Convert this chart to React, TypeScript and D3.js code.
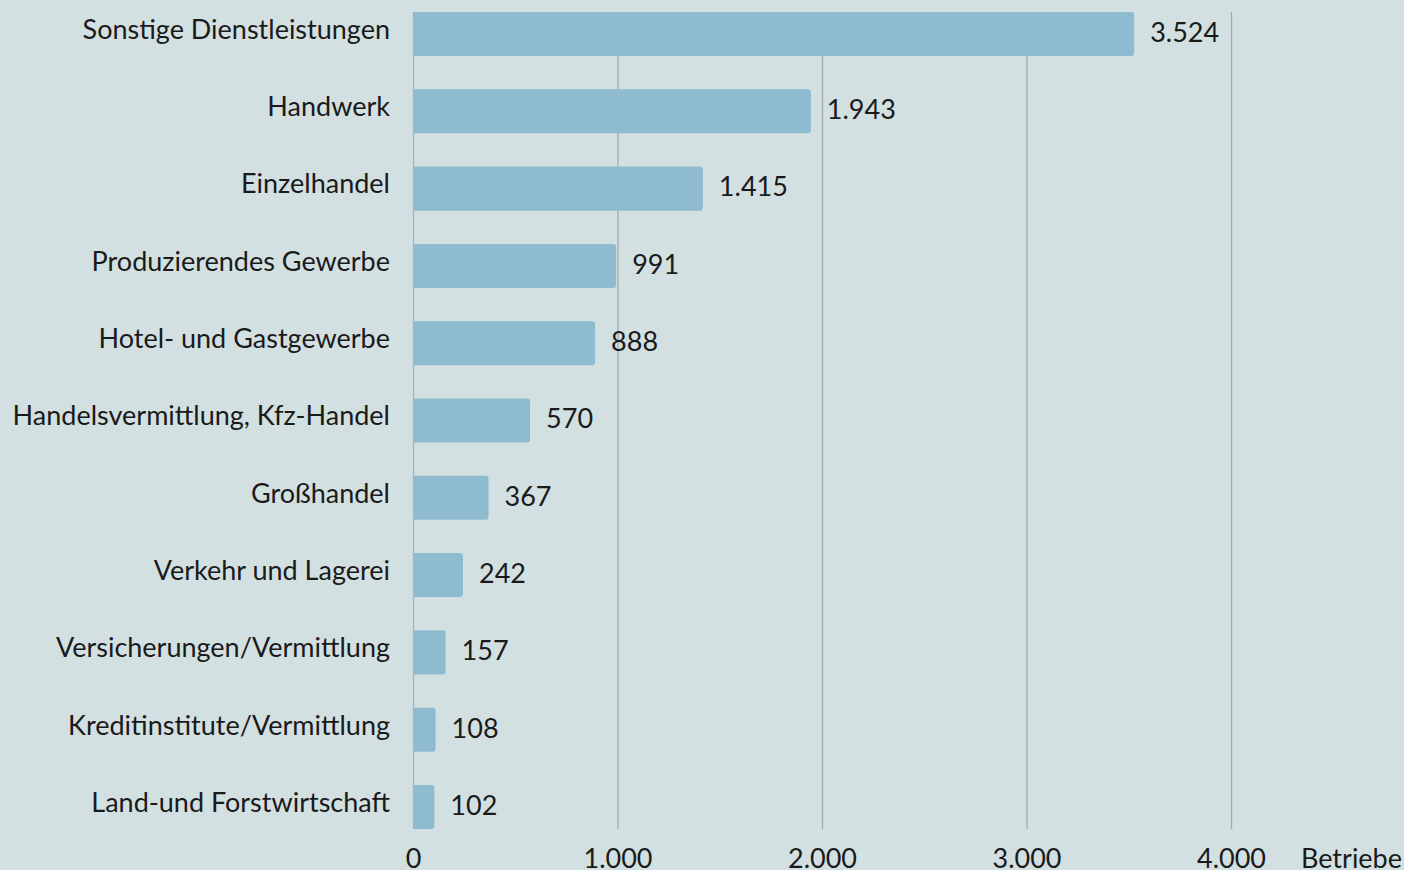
import React from "react";
import * as d3 from "d3";

const categories = [
  "Sonstige Dienstleistungen",
  "Handwerk",
  "Einzelhandel",
  "Produzierendes Gewerbe",
  "Hotel- und Gastgewerbe",
  "Handelsvermittlung, Kfz-Handel",
  "Großhandel",
  "Verkehr und Lagerei",
  "Versicherungen/Vermittlung",
  "Kreditinstitute/Vermittlung",
  "Land-und Forstwirtschaft",
];
const values = [3524, 1943, 1415, 991, 888, 570, 367, 242, 157, 108, 102];
const ticks = [0, 1000, 2000, 3000, 4000];
const unitLabel = "Betriebe";

const W = 1404;
const H = 870;
const FONT = "Lato, 'Open Sans', sans-serif";
const fmt = (v: number) => d3.format(",")(v).replace(/,/g, ".");

export default function App() {
  const x = d3.scaleLinear().domain([0, 4000]).range([413.5, 1231.5]);
  const y = d3.scaleBand<string>().domain(categories).range([12, 829]).paddingInner(0.43).paddingOuter(0);
  const bw = y.bandwidth();
  const r = 3;
  const barPath = (v: number, top: number) => {
    const x0 = x(0);
    const x1 = x(v);
    const b = top + bw;
    return `M${x0},${top}H${x1 - r}Q${x1},${top} ${x1},${top + r}V${b - r}Q${x1},${b} ${x1 - r},${b}H${x0}Z`;
  };
  return (
    <svg width={W} height={H} style={{ position: "absolute", left: 0, top: 0, display: "block" }} fontFamily={FONT}>
      <rect x={0} y={0} width={W} height={H} fill="#d3e0e2" />
      {ticks.map((t) => (
        <line key={"g" + t} x1={x(t)} x2={x(t)} y1={12} y2={829} stroke={t === 0 ? "#a9b3b5" : "#a3abad"} strokeWidth={1.3} />
      ))}
      {categories.map((c, i) => {
        const top = y(c)!;
        const cy = top + bw / 2;
        return (
          <g key={c}>
            <path d={barPath(values[i], top)} fill="#8fbbd0" />
            <text x={390} y={cy - 2} textAnchor="end" fontSize={27} fill="#1a1a1a" dominantBaseline="middle">
              {c}
            </text>
            <text x={x(values[i]) + 16} y={cy + 1} fontSize={27} fill="#1a1a1a" dominantBaseline="middle">
              {fmt(values[i])}
            </text>
          </g>
        );
      })}
      {ticks.map((t) => (
        <text key={"t" + t} x={x(t)} y={868} textAnchor="middle" fontSize={27} fill="#1a1a1a">
          {fmt(t)}
        </text>
      ))}
      <text x={1402} y={868} textAnchor="end" fontSize={27} fill="#1a1a1a">
        {unitLabel}
      </text>
    </svg>
  );
}
